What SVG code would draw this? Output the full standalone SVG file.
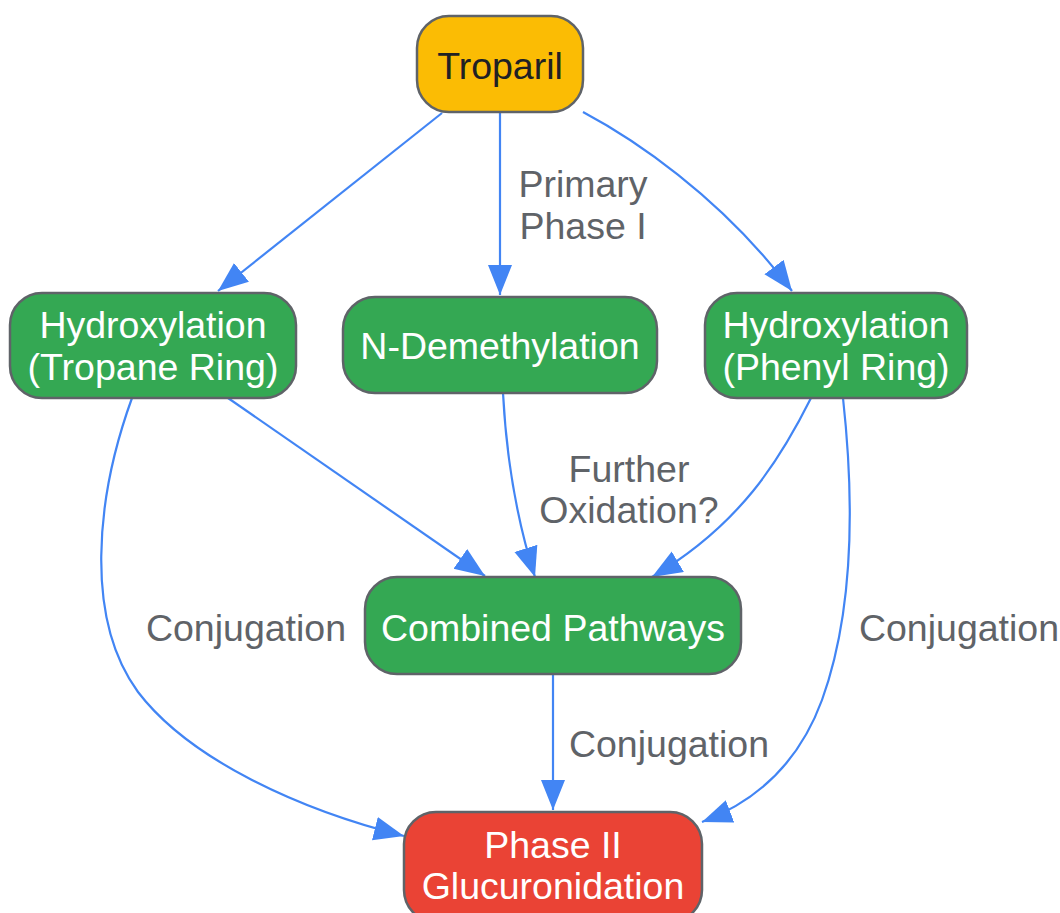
<svg xmlns="http://www.w3.org/2000/svg" width="1060" height="913" viewBox="0 0 1060 913">
<style>
.n{stroke:#5f6368;stroke-width:2.5}
.g{fill:#34A853}
.t{font-family:"Liberation Sans",Arial,sans-serif;font-size:37.5px;text-anchor:middle}
.w{fill:#ffffff}
.l{fill:#5f6368}
.e{fill:none;stroke:#4285F4;stroke-width:2.2;marker-end:url(#a)}
</style>
<defs>
<marker id="a" markerUnits="userSpaceOnUse" markerWidth="32" markerHeight="26" refX="30" refY="12" orient="auto">
<path d="M0,0 L30,12 L0,24 Z" fill="#4285F4"/>
</marker>
</defs>
<rect width="1060" height="913" fill="#ffffff"/>
<g id="connectors">
<path class="e" d="M442,113 L218,291"/>
<path class="e" d="M500,113 L500,295"/>
<path class="e" d="M583,112 C630,137 720,195 792,291"/>
<path class="e" d="M228,398 L485,576"/>
<path class="e" d="M132,398 C95,500 85,620 138,692 C190,760 300,810 404,836"/>
<path class="e" d="M503,393 C507,470 520,530 535,577"/>
<path class="e" d="M811,398 C780,460 740,525 652,577"/>
<path class="e" d="M843,398 C852,480 858,600 822,700 C800,760 760,800 702,822"/>
<path class="e" d="M553,674 L553,810"/>
</g>
<g id="edge-labels">
<text class="t l" x="583" y="197">Primary</text>
<text class="t l" x="583" y="239">Phase I</text>
<text class="t l" x="629" y="482">Further</text>
<text class="t l" x="629" y="523">Oxidation?</text>
<text class="t l" x="246" y="641">Conjugation</text>
<text class="t l" x="959" y="641">Conjugation</text>
<text class="t l" x="669" y="757">Conjugation</text>
</g>
<g id="troparil">
<rect class="n" x="417" y="16" width="166" height="96" rx="32" fill="#FBBC04"/>
<text class="t" x="500" y="79" fill="#202124">Troparil</text>
</g>
<g id="hydroxylation-tropane">
<rect class="n g" x="10" y="293" width="286" height="105" rx="32"/>
<text class="t w" x="153" y="338">Hydroxylation</text>
<text class="t w" x="153" y="380">(Tropane Ring)</text>
</g>
<g id="n-demethylation">
<rect class="n g" x="343" y="297" width="314" height="96" rx="32"/>
<text class="t w" x="500" y="359">N-Demethylation</text>
</g>
<g id="hydroxylation-phenyl">
<rect class="n g" x="705" y="293" width="262" height="105" rx="32"/>
<text class="t w" x="836" y="338">Hydroxylation</text>
<text class="t w" x="836" y="380">(Phenyl Ring)</text>
</g>
<g id="combined-pathways">
<rect class="n g" x="365" y="577" width="376" height="97" rx="32"/>
<text class="t w" x="553" y="641">Combined Pathways</text>
</g>
<g id="phase-ii">
<rect class="n" x="404" y="812" width="298" height="110" rx="32" fill="#EA4335"/>
<text class="t w" x="553" y="858">Phase II</text>
<text class="t w" x="553" y="899">Glucuronidation</text>
</g>
</svg>
